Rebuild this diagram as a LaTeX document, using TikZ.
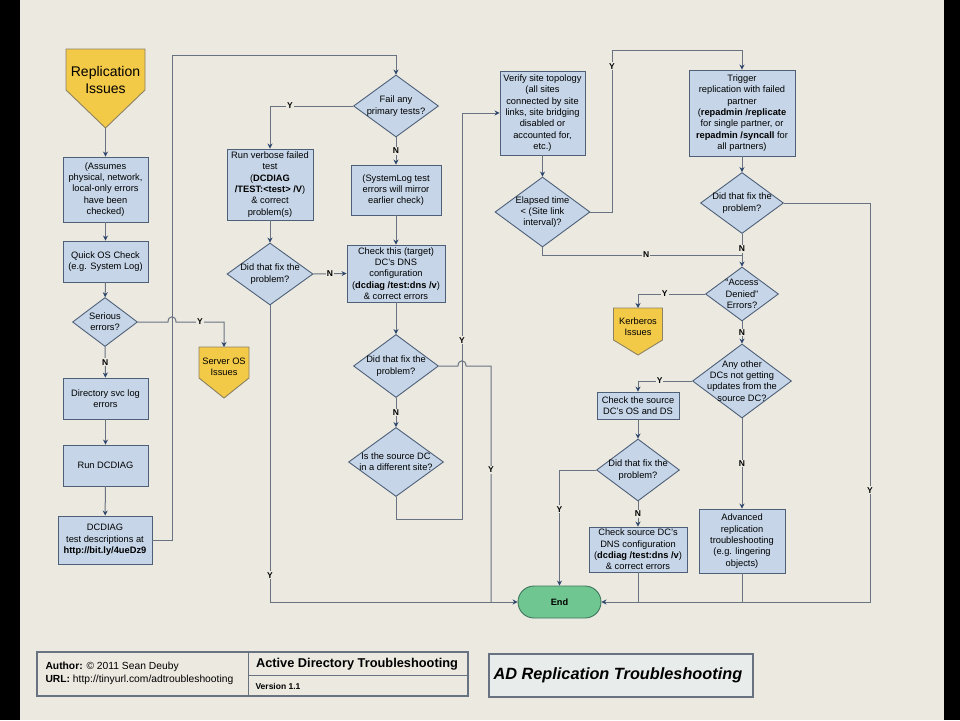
\documentclass[tikz,border=0pt]{standalone}
\usepackage{fontspec}
\setmainfont{Liberation Sans}
\usetikzlibrary{shapes.geometric,arrows.meta}

\definecolor{pagebg}{RGB}{236,233,225}
\definecolor{boxfill}{RGB}{198,214,232}
\definecolor{boxline}{RGB}{78,96,120}
\definecolor{flowline}{RGB}{104,114,128}
\definecolor{arrowc}{RGB}{44,70,108}
\definecolor{offfill}{RGB}{243,201,72}
\definecolor{offline}{RGB}{140,130,100}
\definecolor{endfill}{RGB}{112,198,144}
\definecolor{endline}{RGB}{62,118,92}
\definecolor{titlefill}{RGB}{232,236,234}

\newcommand{\boxfont}{\fontsize{9.3}{11.3}\selectfont}

\begin{document}
\begin{tikzpicture}[x=1pt,y=-1pt,
    proc/.style={rectangle,draw=boxline,fill=boxfill,line width=0.9pt,align=center,font=\boxfont,inner sep=1pt},
    dec/.style={diamond,draw=boxline,fill=boxfill,line width=0.9pt,inner sep=0pt},
    dtext/.style={align=center,font=\boxfont,inner sep=0pt},
    offpage/.style={draw=offline,fill=offfill,line width=0.9pt},
    term/.style={rectangle,rounded corners=16pt,draw=endline,fill=endfill,line width=0.9pt,font=\bfseries\fontsize{9.2}{11}\selectfont},
    flow/.style={draw=flowline,line width=1pt,-{Stealth[length=5pt,width=5pt,color=arrowc]}},
    link/.style={draw=flowline,line width=1pt},
    yn/.style={fill=pagebg,font=\bfseries\fontsize{8.5}{9}\selectfont,inner sep=1pt}]

  % page
  \fill[black] (0,0) rectangle (960,720);
  \fill[pagebg] (20,0) rectangle (944,720);
  \useasboundingbox (0,0) rectangle (960,720);

  % off-page connectors
  \draw[offpage] (66,49) -- (145,49) -- (145,90) -- (105.5,128) -- (66,90) -- cycle;
  \coordinate (repltip) at (105.5,128);
  \node[font=\fontsize{14}{16.5}\selectfont,align=center] (repl) at (105.5,80) {Replication\\Issues};

  \draw[offpage] (199,347) -- (249,347) -- (249,378) -- (224,398) -- (199,378) -- cycle;
  \coordinate (serverostop) at (224,347);
  \node[font=\boxfont,align=center] (serveros) at (224,367) {Server OS\\Issues};

  \draw[offpage] (613.5,308) -- (662.5,308) -- (662.5,340) -- (638,355) -- (613.5,340) -- cycle;
  \coordinate (kerbtop) at (638,308);
  \node[font=\boxfont,align=center] (kerberos) at (638,327) {Kerberos\\Issues};

  % left column
  \node[proc,minimum width=85pt,minimum height=65pt] (assume) at (105.5,189.5) {(Assumes\\physical, network,\\local-only errors\\have been\\checked)};
  \node[proc,minimum width=85pt,minimum height=41pt] (quickos) at (105.5,261.5) {Quick OS Check\\(e.g. System Log)};
  \node[dec,minimum width=65pt,minimum height=49pt,label={[dtext]center:{Serious\\errors?}}] (serious) at (105,322) {};
  \node[proc,minimum width=85pt,minimum height=41pt] (dirsvc) at (105.5,398.5) {Directory svc log\\errors};
  \node[proc,minimum width=85pt,minimum height=41pt] (rundiag) at (105.5,465.5) {Run DCDIAG};
  \node[proc,minimum width=94pt,minimum height=48pt] (dcdiag) at (105,540) {DCDIAG\\test descriptions at\\\textbf{http://bit.ly/4ueDz9}};

  % second and third columns
  \node[dec,minimum width=85pt,minimum height=62pt,label={[dtext]center:{Fail any\\primary tests?}}] (failany) at (396,106) {};
  \node[proc,minimum width=86pt,minimum height=71pt] (verbose) at (270,184.5) {Run verbose failed\\test\\(\textbf{DCDIAG}\\\textbf{/TEST:<test> /V})\\\& correct\\problem(s)};
  \node[dec,minimum width=86pt,minimum height=62pt,label={[dtext]center:{Did that fix the\\problem?}}] (fixa) at (270,274) {};
  \node[proc,minimum width=90pt,minimum height=50pt] (syslog) at (396,190) {(SystemLog test\\errors will mirror\\earlier check)};
  \node[proc,minimum width=98pt,minimum height=57pt] (checkdns) at (396,273.5) {Check this (target)\\DC's DNS\\configuration\\(\textbf{dcdiag /test:dns /v})\\\& correct errors};
  \node[dec,minimum width=85pt,minimum height=63pt,label={[dtext]center:{Did that fix the\\problem?}}] (fixb) at (396,366) {};
  \node[dec,minimum width=95pt,minimum height=69pt,label={[dtext]center:{Is the source DC\\in a different site?}}] (sitediff) at (396,462) {};

  % site topology
  \node[proc,minimum width=85pt,minimum height=84pt] (verify) at (542.5,113) {Verify site topology\\(all sites\\connected by site\\links, site bridging\\disabled or\\accounted for,\\etc.)};
  \node[dec,minimum width=95pt,minimum height=70pt,label={[dtext]center:{Elapsed time\\< (Site link\\interval)?}}] (elapsed) at (542.5,212) {};

  % right columns
  \node[proc,minimum width=106pt,minimum height=86pt] (trigger) at (742,113) {Trigger\\replication with failed\\partner\\(\textbf{repadmin /replicate}\\for single partner, or\\\textbf{repadmin /syncall} for\\all partners)};
  \node[dec,minimum width=83pt,minimum height=61pt,label={[dtext]center:{Did that fix the\\problem?}}] (fixc) at (742,203) {};
  \node[dec,minimum width=73pt,minimum height=54pt,label={[dtext]center:{``Access\\Denied''\\Errors?}}] (access) at (742,294) {};
  \node[dec,minimum width=99pt,minimum height=74pt,label={[dtext]center:{Any other\\DCs not getting\\updates from the\\source DC?}}] (anyother) at (742,381) {};
  \node[proc,minimum width=82pt,minimum height=27pt] (checksrc) at (638,405.5) {Check the source\\DC's OS and DS};
  \node[dec,minimum width=83pt,minimum height=62pt,label={[dtext]center:{Did that fix the\\problem?}}] (fixd) at (638,470) {};
  \node[proc,minimum width=98pt,minimum height=45pt] (srcdns) at (638,549.5) {Check source DC's\\DNS configuration\\(\textbf{dcdiag /test:dns /v})\\\& correct errors};
  \node[proc,minimum width=86pt,minimum height=64pt] (advanced) at (742,541) {Advanced\\replication\\troubleshooting\\(e.g. lingering\\objects)};
  \node[term,minimum width=83pt,minimum height=32pt] (finish) at (559.5,602) {End};

  \coordinate (joinb) at (491,602);
  \coordinate (joinc) at (742,255);
  \coordinate (joind) at (638,602);
  \coordinate (joine) at (742,602);

  % connectors, left column
  \draw[flow] (repltip) -- (assume.north);
  \draw[flow] (assume) -- (quickos);
  \draw[flow] (quickos) -- (serious);
  \draw[flow] (serious) -- node[yn] {N} (dirsvc);
  \draw[flow] (dirsvc) -- (rundiag);
  \draw[flow] (rundiag) -- (dcdiag);
  \draw[flow] (serious.east) -- (168,322) .. controls (168,315) and (176,315) .. (176,322) -- node[yn] {Y} (224,322) -- (serverostop);
  \draw[flow] (dcdiag.east) -| (172,55) -| (failany.north);

  % connectors, middle
  \draw[flow] (failany.west) -| node[yn,pos=0.38] {Y} (verbose.north);
  \draw[flow] (failany) -- node[yn] {N} (syslog);
  \draw[flow] (verbose) -- (fixa);
  \draw[flow] (fixa.east) -- node[yn] {N} (checkdns.west);
  \draw[flow] (fixa.south) |- node[yn,pos=0.455] {Y} (finish.west);
  \draw[flow] (syslog) -- (checkdns);
  \draw[flow] (checkdns) -- (fixb);
  \draw[link] (fixb.east) -- (458,366) .. controls (458,359) and (466,359) .. (466,366) -- (491,366) -- node[yn,pos=0.44] {Y} (joinb);
  \draw[flow] (fixb) -- node[yn] {N} (sitediff);
  \draw[flow] (sitediff.south) |- (462,519) |- node[yn,pos=0.22] {Y} (verify.west);

  % connectors, site topology
  \draw[flow] (verify) -- (elapsed);
  \draw[flow] (elapsed.east) -| node[yn,pos=0.95] {Y} (612,50) -| (trigger.north);
  \draw[link] (elapsed.south) |- node[yn,pos=0.76] {N} (joinc);

  % connectors, right
  \draw[flow] (trigger) -- (fixc);
  \draw[flow] (fixc) -- node[yn,pos=0.45] {N} (access);
  \draw[flow] (fixc.east) -| node[yn,pos=0.86] {Y} (870,602) -- (finish.east);
  \draw[flow] (access.west) -| node[yn,pos=0.3] {Y} (kerbtop);
  \draw[flow] (access) -- node[yn] {N} (anyother);
  \draw[flow] (anyother.west) -| node[yn,pos=0.3] {Y} (checksrc.north);
  \draw[flow] (checksrc) -- (fixd);
  \draw[flow] (fixd.west) -| node[yn,pos=0.67] {Y} (finish.north);
  \draw[flow] (fixd) -- node[yn] {N} (srcdns);
  \draw[link] (srcdns.south) -- (joind);
  \draw[flow] (anyother) -- node[yn] {N} (advanced);
  \draw[link] (advanced.south) -- (joine);

  % title block
  \draw[draw=flowline,line width=1.2pt] (37,652) rectangle (468,696);
  \draw[draw=flowline,line width=1pt] (248,652) -- (248,696);
  \draw[draw=flowline,line width=0.8pt] (248,675) -- (468,675);
  \node[anchor=west,align=left,font=\fontsize{10.3}{13.5}\selectfont] (author) at (42,673.5) {\textbf{Author:} © 2011 Sean Deuby\\\textbf{URL:} http://tinyurl.com/adtroubleshooting};
  \node[font=\bfseries\fontsize{12.8}{14}\selectfont] (titletxt) at (357,664) {Active Directory Troubleshooting};
  \node[anchor=west,font=\bfseries\fontsize{8.5}{10}\selectfont] (version) at (252,686) {Version 1.1};

  \draw[draw=flowline,fill=titlefill,line width=1.2pt] (489,654) rectangle (753,697);
  \node[anchor=west,font=\bfseries\itshape\fontsize{16.3}{18}\selectfont] (replbanner) at (490,675) {AD Replication Troubleshooting};
\end{tikzpicture}
\end{document}
